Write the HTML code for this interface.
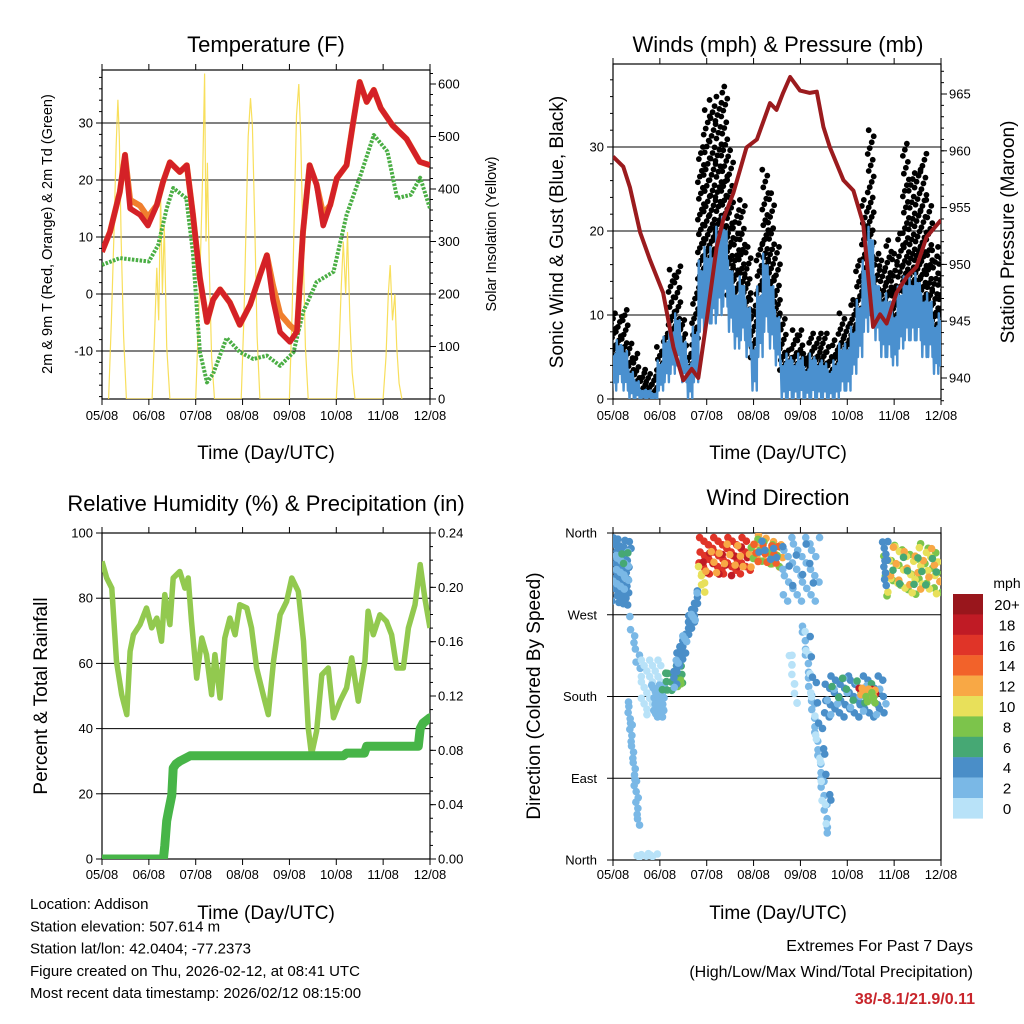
<!DOCTYPE html>
<html><head><meta charset="utf-8"><style>
html,body{margin:0;padding:0;background:#fff;}
svg{display:block;font-family:"Liberation Sans",Arial,sans-serif;}
</style></head><body>
<svg id="s" width="1024" height="1024" viewBox="0 0 1024 1024" xmlns="http://www.w3.org/2000/svg">
<defs>
<clipPath id="c1"><rect x="102" y="70" width="328" height="329"/></clipPath>
<clipPath id="c2"><rect x="613" y="64" width="328" height="335"/></clipPath>
<clipPath id="c3"><rect x="102" y="533" width="328" height="326"/></clipPath>
<clipPath id="c4"><rect x="613" y="533" width="328" height="327"/></clipPath>
</defs>
<g id="g"></g>
</svg>
<script>
// ---------- data ----------
const dayLabels = ["05/08","06/08","07/08","08/08","09/08","10/08","11/08","12/08"];
const tempT = [0,0.17,0.38,0.49,0.6,0.81,0.98,1.17,1.3,1.45,1.66,1.81,1.94,2.09,2.24,2.37,2.52,2.73,2.94,3.16,3.37,3.52,3.65,3.8,4.01,4.16,4.29,4.43,4.58,4.72,4.87,5.01,5.22,5.35,5.5,5.65,5.8,5.95,6.2,6.5,6.78,7];
const temp2V = [7.4,10.9,17.9,24.4,15,13.9,12,15.6,19.6,23.1,21.4,22.6,14,2.8,-4.9,-1,0.8,-1.5,-5.4,-1.9,3.3,6.8,-1,-6.7,-8.4,-6.6,10.9,22.6,19.2,12,15.6,20.3,22.6,29.6,37.2,33.7,35.8,32.6,29.6,27.2,23.2,22.6];
const temp9V = [7.4,10.9,17.9,24.4,16.5,15.5,13.5,15.6,19.6,23.1,21.4,22.6,14,2.8,-4.9,-1,0.8,-1.5,-5.4,-1.9,3.3,6.8,1.5,-3.5,-5.5,-6.6,10.9,22.6,19.2,14,15.6,20.3,22.6,29.6,37.2,33.7,35.8,32.6,29.6,27.2,23.2,22.6];
const dewT = [0,0.38,1,1.2,1.38,1.52,1.8,1.94,2.09,2.24,2.37,2.66,2.94,3.23,3.52,3.8,4.09,4.29,4.58,4.94,5.22,5.5,5.8,6.09,6.3,6.59,6.79,7];
const dewV = [5.1,6.3,5.7,8.6,15,18.6,16.8,7.3,-10.2,-15.5,-14,-7.7,-10.2,-11.4,-10.8,-12.6,-10.2,-3.2,2.1,3.9,13.9,20.4,27.9,25,16.8,17.4,20.4,15];
const solarT = [0.14,0.2,0.26,0.3,0.34,0.37,0.41,0.46,0.52, 1.07,1.12,1.17,1.21,1.25,1.29,1.33,1.38,1.45, 2.0,2.06,2.11,2.15,2.19,2.22,2.25,2.29,2.34,2.4, 2.97,3.03,3.08,3.12,3.17,3.21,3.26,3.31,3.37, 4.0,4.06,4.11,4.15,4.2,4.24,4.29,4.34,4.4, 5.0,5.06,5.11,5.15,5.2,5.24,5.29,5.34,5.4, 6.0,6.06,6.11,6.15,6.2,6.25,6.29,6.34,6.4];
const solarV = [0,150,330,480,570,500,300,120,0, 0,120,250,150,390,200,330,100,0, 0,150,300,430,620,300,450,250,80,0, 0,160,350,500,573,520,330,120,0, 0,170,380,540,600,500,300,100,0, 0,100,220,300,200,318,150,50,0, 0,80,200,255,150,200,100,30,0];
const presT = [0,0.22,0.36,0.58,0.79,1.07,1.29,1.5,1.68,1.82,2.0,2.21,2.35,2.57,2.85,3.07,3.35,3.49,3.63,3.78,3.99,4.2,4.35,4.49,4.63,4.92,5.13,5.34,5.55,5.7,5.84,6.05,6.27,6.48,6.69,7];
const presV = [959.5,958.6,956.8,952.8,950.4,947.5,942.7,939.8,940.8,940,945.1,951.5,953.9,956.3,960.3,961,964.2,963.6,965.1,966.5,965.3,965.1,965.2,962.1,960.3,957.4,956.5,953.6,944.5,945.6,944.8,947.5,948.9,949.8,952.4,953.9];
const gustV = [10.2,9.8,10.6,6.6,5.4,3.1,3.5,2.7,6.2,7.8,15.4,15.8,9.4,5.4,12.6,30,34.4,35.6,36,37.2,29.6,22.5,23.7,18.1,11.8,18.5,27.3,24.5,18.1,10.2,5.8,8.2,8.2,5.4,7.8,7.8,7.8,6.2,7,10.2,8.6,11.8,16.5,23.7,32,17.3,16.5,18.9,17.3,19.7,30.4,26.9,27.3,29.2,23.7,17.7,18.1];
const windHiV = [5.8,7,6.2,3.5,2.3,1.1,1.1,0.7,4.6,7.4,8.6,10.2,7.4,4.6,8.6,16.5,18.1,18.1,20.5,21.7,16.5,13.4,14.6,11.8,6.6,13.4,17.3,14.6,10.6,4.6,5.4,4.6,5.4,3.8,5.4,4.6,4.6,3.5,4.6,6.6,6.6,8.6,11.8,16.5,20.5,14.6,12.6,12.6,10.6,13.4,14.6,14.6,15,12.6,12.6,9.4,10.2];
const windLoV = [1,2,1,0,0,0,0,0,1,2,3,4,2,0,2,8,9,9,10,11,8,6,7,5,1,5,8,6,4,0,0,0,0,0,0,0,0,0,0,1,1,3,5,8,10,7,5,5,4,6,7,7,7,5,5,3,4];
const windStepDays = 0.125;
const rhT = [0,0.1,0.21,0.31,0.42,0.53,0.6,0.67,0.81,0.95,1.06,1.17,1.27,1.34,1.45,1.52,1.66,1.77,1.84,1.91,2.02,2.13,2.23,2.34,2.41,2.52,2.62,2.73,2.84,2.94,3.09,3.19,3.3,3.44,3.55,3.66,3.8,3.94,4.05,4.19,4.3,4.4,4.47,4.58,4.69,4.83,4.94,5.08,5.22,5.33,5.47,5.61,5.68,5.79,5.93,6.07,6.18,6.29,6.43,6.54,6.68,6.79,6.89,7];
const rhV = [91.3,86.2,83.1,60.6,50.4,44.3,63.7,68.8,71.9,77,70.9,73.9,66.8,81.1,71.9,86.2,88.2,83.1,86.2,72.9,55.5,67.8,62.7,50.4,62.7,49.4,67.8,73.9,68.8,78,77,70.9,58.6,50.4,44.3,60.6,74.9,79,86.2,82.1,66.8,40.2,32,39.2,56.5,58.6,43.3,48.4,52.5,61.7,48.4,60.6,76,68.8,74.9,72.9,68.8,58.6,58.6,70.9,78,90.3,80.1,70.9];
const precT = [0,1.31,1.34,1.38,1.42,1.49,1.52,1.58,1.66,1.88,5.15,5.22,5.6,5.65,6.75,6.79,6.85,7];
const precV = [0,0,0.01,0.028,0.035,0.047,0.067,0.07,0.072,0.076,0.076,0.078,0.078,0.083,0.083,0.096,0.1,0.104];
// wind direction clusters (trail from t0/d0 to t1/d1, spread in degrees, count, speed mph)
const clT0 = [0,0.02,0.2,0.36,0.33,0.5,0.58,0.85,1.07,1.38,1.3,1.3,1.82,1.9,1.85,2.0,2.92,2.95,3.0,3.1,3.6,3.65,3.78,4.05,4.1,4.2,4.5,4.55,4.7,5.27,5.3,5.4,5.77,5.85,5.9,6.0,5.77];
const clT1 = [0.36,0.35,0.3,0.58,0.55,0.93,1.07,1.1,1.5,1.45,1.82,1.82,2.92,2.85,1.95,2.8,3.63,3.6,3.55,3.5,4.4,4.3,3.92,4.6,4.55,4.65,5.8,5.8,5.6,5.63,5.6,5.6,7,7,6.95,6.9,5.85];
const clD0 = [320,315,335,260,175,5,190,175,195,195,200,205,335,325,315,330,340,338,335,345,320,330,230,255,250,240,180,180,185,183,185,180,318,320,322,315,330];
const clD1 = [315,320,330,215,40,5,190,175,205,195,290,285,335,330,305,335,340,338,340,335,320,320,170,30,40,60,180,180,185,183,185,180,322,318,320,325,325];
const clSpread = [70,40,20,20,15,4,60,35,25,10,25,30,40,30,20,30,35,30,25,20,70,50,10,20,15,15,45,40,30,12,10,14,55,50,45,40,50];
const clN = [40,15,3,8,25,8,30,25,15,4,30,10,40,12,6,12,15,12,10,6,30,8,10,30,15,12,45,15,10,5,8,5,25,25,15,10,10];
const clSpeed = [4,3,7,2,3,1,1,3,7,9,4,2,16,19,10,13,12,8,15,5,2,4,1,3,1,4,4,2,6,18,13,9,8,10,13,6,4];
const barLabels = ["20+","18","16","14","12","10","8","6","4","2","0"];
const barColors = ["#99161c","#c01b25","#e03428","#f2622a","#f8a845","#e8e05a","#7cc44b","#46a874","#4a8ec8","#7ab8e6","#b8e2f8"];

// ---------- helpers ----------
const NS="http://www.w3.org/2000/svg";
const root=document.getElementById('g');
function mk(tag,attrs,parent,txt){const e=document.createElementNS(NS,tag);for(const k in attrs)e.setAttribute(k,attrs[k]);if(txt!==undefined)e.textContent=txt;(parent||root).appendChild(e);return e;}
function grp(name,clip){const e=mk('g',clip?{'clip-path':'url(#'+clip+')'}:{});return e;}
function txt(parent,x,y,s,size,anchor,name,extra){const a=Object.assign({x:x,y:y,'font-size':size,'text-anchor':anchor||'start',fill:'#000'},extra||{});const e=mk('text',a,parent,s);return e;}
function path(pts){return pts.map((p,i)=>(i?'L':'M')+p[0].toFixed(1)+','+p[1].toFixed(1)).join('');}

function frame(name,x0,x1,y0,y1,fx,xLabY){
  const g=grp(name+'-frame');
  for(let i=0;i<dayLabels.length;i++){const x=fx(i);
    mk('line',{x1:x,x2:x,y1:y1,y2:y1+6,stroke:'#000','stroke-width':1},g);
    mk('line',{x1:x,x2:x,y1:y0,y2:y0-6,stroke:'#000','stroke-width':1},g);
    txt(g,x,xLabY,dayLabels[i],13,'middle','x-tick-label');}
  const r=mk('rect',{x:x0,y:y0,width:x1-x0,height:y1-y0,fill:'none',stroke:'#000','stroke-width':1.2},g);
  
  return g;
}
function yAxis(g,ticks,fy,x,side,fmt,x0,x1,grid,minor){
  for(const v of ticks){const y=fy(v);
    if(grid) mk('line',{x1:x0,x2:x1,y1:y,y2:y,stroke:'#000','stroke-width':1},g);
    mk('line',{x1:x,x2:x+(side<0?-6:6),y1:y,y2:y,stroke:'#000','stroke-width':1},g);
    txt(g,x+(side<0?-9:8),y+4.5,fmt(v),13,side<0?'end':'start','y-tick-label');}
  if(minor) for(const v of minor){const y=fy(v);mk('line',{x1:x,x2:x+(side<0?-3:3),y1:y,y2:y,stroke:'#000','stroke-width':1},g);}
}
function rng(a,b,s){const r=[];for(let v=a;v<=b+1e-9;v+=s)r.push(+v.toFixed(4));return r;}

// ---------- Panel 1: temperature ----------
{
 const fx=d=>102+d*328/7, fy=v=>294-v*5.7, fr=v=>399-v*0.525;
 const g=frame('temperature',102,430,70,399,fx,420);
 yAxis(g,[-10,0,10,20,30],fy,102,-1,v=>v,102,430,true,rng(-18,38,2));
 yAxis(g,[0,100,200,300,400,500,600],fr,430,1,v=>v,0,0,false,rng(0,620,20));
 const p=grp('temperature-series','c1');
 const sol=mk('path',{d:path(solarT.map((t,i)=>[fx(t),fr(solarV[i])])),fill:'none',stroke:'#f7dc4a','stroke-width':1.2,opacity:0.9},p);
 
 const dw=mk('path',{d:path(dewT.map((t,i)=>[fx(t),fy(dewV[i])])),fill:'none',stroke:'#4aae44','stroke-width':4,'stroke-dasharray':'2.5 1.4','stroke-linejoin':'round'},p);
 
 const t9=mk('path',{d:path(tempT.map((t,i)=>[fx(t),fy(temp9V[i])])),fill:'none',stroke:'#f07f2e','stroke-width':6,'stroke-linejoin':'round'},p);
 
 const t2=mk('path',{d:path(tempT.map((t,i)=>[fx(t),fy(temp2V[i])])),fill:'none',stroke:'#d42127','stroke-width':5.5,'stroke-linejoin':'round'},p);
 
 txt(root,266,52,'Temperature (F)',22,'middle','temperature-chart-title');
 txt(root,266,459,'Time (Day/UTC)',19,'middle','temperature-x-axis-title');
 txt(root,0,0,'2m & 9m T (Red, Orange) & 2m Td (Green)',14.5,'middle','temperature-y-axis-title',{transform:'translate(52,234) rotate(-90)'});
 txt(root,0,0,'Solar Insolation (Yellow)',14.5,'middle','solar-y-axis-title',{transform:'translate(496,234) rotate(-90)'});
}
// ---------- Panel 2: winds & pressure ----------
{
 const fx=d=>613+d*328/7, fy=v=>399-v*8.4, fr=v=>378-(v-940)*11.36;
 const g=frame('winds',613,941,64,399,fx,420);
 yAxis(g,[0,10,20,30],fy,613,-1,v=>v,613,941,true,rng(0,38,2));
 yAxis(g,[940,945,950,955,960,965],fr,941,1,v=>v,0,0,false,rng(938,967,1));
 const p=grp('wind-series','c2');
 const gb=grp('gust-dots','c2');
 const bb=grp('wind-bars','c2');
 const bluePts=[];
 for(let i=0;i<gustV.length;i++){
   const t=i*windStepDays, x=fx(t);
   const lo=windHiV[i]*0.75, hi=gustV[i];
   const n=Math.max(4,Math.round((hi-lo)*1.8)+3);
   for(let k=0;k<n;k++){
     const f=k/(n-1);const v=lo+(hi-lo)*Math.pow(f,1.4);
     const dx=(((k*37)%7)-3)*1.0;
     const c=mk('circle',{cx:x+dx,cy:fy(v),r:2.9,fill:'#000'},gb);
     
     
   }
   const hiV=windHiV[i], loV=windLoV[i];
   bluePts.push([x-2.2,fy(hiV)],[x-1.1,fy(loV)],[x,fy(hiV*0.85+loV*0.15)],[x+1.1,fy(loV+(hiV-loV)*0.2)],[x+2.2,fy(hiV*0.92)],[x+3.2,fy(loV)]);
 }
 const bl=mk('path',{d:path(bluePts),fill:'none',stroke:'#4a90cf','stroke-width':2.4,'stroke-linejoin':'round'},bb);
 
 const pr=mk('path',{d:path(presT.map((t,i)=>[fx(t),fr(presV[i])])),fill:'none',stroke:'#9b1b1e','stroke-width':4,'stroke-linejoin':'round'},p);
 
 root.appendChild(p);
 txt(root,778,52,'Winds (mph) & Pressure (mb)',22,'middle','winds-chart-title');
 txt(root,778,459,'Time (Day/UTC)',19,'middle','winds-x-axis-title');
 txt(root,0,0,'Sonic Wind & Gust (Blue, Black)',19,'middle','wind-y-axis-title',{transform:'translate(563,232) rotate(-90)'});
 txt(root,0,0,'Station Pressure (Maroon)',19,'middle','pressure-y-axis-title',{transform:'translate(1014,232) rotate(-90)'});
}
// ---------- Panel 3: RH & precip ----------
{
 const fx=d=>102+d*328/7, fy=v=>859-v*3.26, fr=v=>859-v*1358.3;
 const g=frame('humidity',102,430,533,859,fx,879);
 yAxis(g,[0,20,40,60,80,100],fy,102,-1,v=>v,102,430,true,null);
 yAxis(g,[0,0.04,0.08,0.12,0.16,0.2,0.24],fr,430,1,v=>v.toFixed(2),0,0,false,rng(0,0.24,0.01));
 const p=grp('humidity-series','c3');
 const rh=mk('path',{d:path(rhT.map((t,i)=>[fx(t),fy(rhV[i])])),fill:'none',stroke:'#92c94f','stroke-width':5.5,'stroke-linejoin':'round'},p);
 
 const pc=mk('path',{d:path(precT.map((t,i)=>[fx(t),fr(precV[i])])),fill:'none',stroke:'#47b548','stroke-width':9,'stroke-linejoin':'round','stroke-linecap':'round'},p);
 
 txt(root,266,511,'Relative Humidity (%) & Precipitation (in)',22,'middle','humidity-chart-title');
 txt(root,266,919,'Time (Day/UTC)',19,'middle','humidity-x-axis-title');
 txt(root,0,0,'Percent & Total Rainfall',19,'middle','humidity-y-axis-title',{transform:'translate(47,696) rotate(-90)'});
}
// ---------- Panel 4: wind direction ----------
{
 const fx=d=>613+d*328/7, fy=v=>860-v*327/360;
 const g=frame('wind-direction',613,941,533,860,fx,879);
 const names=["North","East","South","West","North"];
 [0,90,180,270,360].forEach((v,i)=>{const y=fy(v);
   mk('line',{x1:613,x2:941,y1:y,y2:y,stroke:'#000','stroke-width':1},g);
   mk('line',{x1:613,x2:607,y1:y,y2:y,stroke:'#000','stroke-width':1},g);
   txt(g,597,y+4.5,names[i],13,'end','direction-tick-label');});
 const p=grp('direction-points','c4');
 for(let c=0;c<clT0.length;c++){
   const n=clN[c];const bin=Math.max(0,Math.min(10,Math.floor(clSpeed[c]/2)));
   const col=barColors[10-bin];
   for(let k=0;k<n;k++){
     const f=n>1?k/(n-1):0.5;
     const t=clT0[c]+(clT1[c]-clT0[c])*f+(((k*5+c)%7)/6-0.5)*0.05;
     const off=(((k*7+c*3)%11)/10-0.5)*clSpread[c];
     const d=clD0[c]+(clD1[c]-clD0[c])*f+off;
     const e=mk('circle',{cx:fx(t),cy:fy(d),r:3.8,fill:col},p);
     
     
   }
 }
 const lg=grp('speed-colorbar');
 barColors.forEach((col,i)=>{mk('rect',{x:953,y:594+i*20.4,width:30,height:20.6,fill:col},lg);
   txt(lg,1007,594+i*20.4+16,barLabels[i],15,'middle','colorbar-label');});
 txt(lg,1007,588,'mph',14,'middle','colorbar-title');
 txt(root,778,505,'Wind Direction',22,'middle','wind-direction-chart-title');
 txt(root,778,919,'Time (Day/UTC)',19,'middle','wind-direction-x-axis-title');
 txt(root,0,0,'Direction (Colored By Speed)',19,'middle','direction-y-axis-title',{transform:'translate(540,696) rotate(-90)'});
}
// ---------- footer ----------
{
 const g=grp('station-info');
 const lines=["Location: Addison","Station elevation: 507.614 m","Station lat/lon: 42.0404; -77.2373","Figure created on Thu, 2026-02-12, at 08:41 UTC","Most recent data timestamp: 2026/02/12 08:15:00"];
 lines.forEach((s,i)=>txt(g,30,909+i*22.3,s,15,'start','station-info-line'));
 const h=grp('extremes-summary');
 txt(h,973,951,'Extremes For Past 7 Days',16,'end','extremes-title');
 txt(h,973,977,'(High/Low/Max Wind/Total Precipitation)',16,'end','extremes-subtitle');
 txt(h,975,1004,'38/-8.1/21.9/0.11',16,'end','extremes-values',{fill:'#c8252b','font-weight':'bold'});
}
</script>
</body></html>
